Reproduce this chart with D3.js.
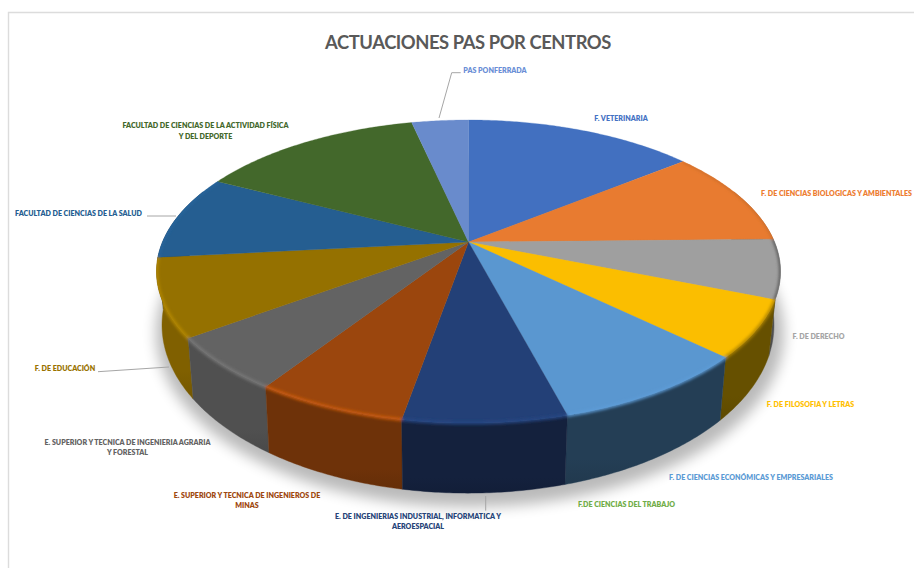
<!DOCTYPE html>
<html><head><meta charset="utf-8">
<script src="https://cdn.jsdelivr.net/npm/d3@7/dist/d3.min.js"></script>
<style>html,body{margin:0;padding:0;background:#fff}svg{display:block}text{font-family:Lato,"Open Sans",sans-serif}</style>
</head><body><div id="c"></div>
<script>
const categories=["F. VETERINARIA","F. DE CIENCIAS BIOLOGICAS Y AMBIENTALES","F. DE DERECHO","F. DE FILOSOFIA Y LETRAS","F. DE CIENCIAS ECONÓMICAS Y EMPRESARIALES","F.DE CIENCIAS DEL TRABAJO","E. DE INGENIERIAS INDUSTRIAL, INFORMATICA Y AEROESPACIAL","E. SUPERIOR Y TECNICA DE INGENIEROS DE MINAS","E. SUPERIOR Y TECNICA DE INGENIERIA AGRARIA Y FORESTAL","F. DE EDUCACIÓN","FACULTAD DE CIENCIAS DE LA SALUD","FACULTAD DE CIENCIAS DE LA ACTIVIDAD FÍSICA Y DEL DEPORTE","PAS PONFERRADA"];
const values=[14.4,10.3,6.3,6.05,8.75,0,7.05,6.55,5.7,8.3,9.1,14,3.55];
const topColors=["#4270C0","#E87B30","#9F9F9F","#FBBE00","#5A97D0","#70AD47","#234077","#9B460D","#636363","#957100","#255E91","#43682B","#698BCC"];
const wallColors=["#2B4A80","#8F4C1E","#505050","#665000","#243E55","#466D2C","#14213D","#6E3209","#505050","#806000","#183D5E","#2C441C","#445B85"];
const rimShift=[0,-0.3,-1.6,-1.0,0.1,0,0.3,0.75,0.55,0.55,0.2,0,0];
const labelColors=["#4472C4","#ED7D31","#A5A5A5","#FFC000","#5B9BD5","#70AD47","#264478","#9E480E","#636363","#997300","#255E91","#43682B","#698ED6"];
const labelLines=[["F. VETERINARIA"],["F. DE CIENCIAS BIOLOGICAS Y AMBIENTALES"],["F. DE DERECHO"],["F. DE FILOSOFIA Y LETRAS"],["F. DE CIENCIAS ECONÓMICAS Y EMPRESARIALES"],["F.DE CIENCIAS DEL TRABAJO"],["E. DE INGENIERIAS INDUSTRIAL, INFORMATICA Y","AEROESPACIAL"],["E. SUPERIOR Y TECNICA DE INGENIEROS DE","MINAS"],["E. SUPERIOR Y TECNICA DE INGENIERIA AGRARIA","Y FORESTAL"],["F. DE EDUCACIÓN"],["FACULTAD DE CIENCIAS DE LA SALUD"],["FACULTAD DE CIENCIAS DE LA ACTIVIDAD FÍSICA","Y DEL DEPORTE"],["PAS PONFERRADA"]];
const labelCentre=[[621,118],[836.5,193],[818.5,336],[810.5,404],[751,477],[626.5,504],[418,516],[247,495],[127.5,442],[65,368],[78.5,213],[205.5,125.5],[495,70.5]];
const leaders=[[[439,118],[451.7,72.7],[460.7,72.7]],[[147,216],[176,216]],[[98,371.7],[169,367]],[[485.7,496],[485.7,510.7]]];
const titleText="ACTUACIONES PAS POR CENTROS";

const W=914,H=568;
const svg=d3.select("#c").append("svg").attr("width",W).attr("height",H);
const defs=svg.append("defs");
const blur=(id,s)=>defs.append("filter").attr("id",id).attr("x","-20%").attr("y","-20%").attr("width","140%").attr("height","140%").append("feGaussianBlur").attr("stdDeviation",s);
blur("sh",7);blur("rim",1.5);

svg.append("path").attr("d","M8.5,568V12.5H914").attr("fill","none").attr("stroke","#DCDCDC").attr("stroke-width",1.4);

const apex={x:468.5,y:242},k=0.195,sY=145.8,sX=306;
const ell={cy:271.5,rx:312,ry:151.5},low={cx:468,cy:325,rx:306,ry:168};
const proj=t=>{const x=Math.sin(t),y=Math.cos(t),w=1+k*y;return [apex.x+sX*x/w,apex.y-sY*y/w];};
const projLow=t=>{const p=proj(t);const nx=(p[0]-apex.x)/ell.rx,ny=(p[1]-ell.cy)/ell.ry;return [low.cx+nx*low.rx,low.cy+ny*low.ry];};
const samples=(a,b)=>{const n=Math.max(2,Math.ceil((b-a)/0.01));return d3.range(n+1).map(i=>a+(b-a)*i/n);};
const line=d3.line();

const pie=d3.pie().sort(null).value(d=>d).startAngle(0).endAngle(2*Math.PI);
const arcs=pie(values).map((d,i)=>({...d,i}));

svg.append("ellipse").attr("cx",low.cx+2).attr("cy",low.cy+8).attr("rx",low.rx+8).attr("ry",low.ry+6)
  .attr("fill","#000").attr("opacity",0.27).attr("filter","url(#sh)");

const clipRange=d=>[Math.max(d.startAngle,Math.PI*0.38),Math.min(d.endAngle,Math.PI*1.62)];

const walls=svg.append("g");
const wallArcs=arcs.filter(d=>d.value>0&&clipRange(d)[0]<clipRange(d)[1]);
const wallPts=d=>{const [a,b]=clipRange(d),ts=samples(a,b);return ts.map(proj).concat(ts.slice().reverse().map(projLow));};
wallArcs.slice()
  .sort((a,b)=>Math.abs((b.startAngle+b.endAngle)/2-Math.PI)-Math.abs((a.startAngle+a.endAngle)/2-Math.PI))
  .forEach(d=>{
    const id="w"+d.i;
    const gr=defs.append("linearGradient").attr("id",id).attr("x1",0).attr("x2",0).attr("y1",0).attr("y2",1);
    gr.append("stop").attr("offset","0%").attr("stop-color",wallColors[d.i]);
    gr.append("stop").attr("offset","80%").attr("stop-color",wallColors[d.i]);
    gr.append("stop").attr("offset","100%").attr("stop-color",d3.color(wallColors[d.i]).darker(0.25));
    walls.append("path").attr("d",line(wallPts(d))+"Z").attr("fill",`url(#${id})`).attr("stroke",wallColors[d.i]).attr("stroke-width",0.4);
  });

const tops=svg.append("g");
arcs.filter(d=>d.value>0).forEach(d=>{
  const pts=[[apex.x,apex.y]].concat(samples(d.startAngle,d.endAngle).map(proj));
  tops.append("path").attr("d",line(pts)+"Z").attr("fill",topColors[d.i]).attr("stroke",topColors[d.i]).attr("stroke-width",0.3);
});

const clip=defs.append("clipPath").attr("id","solid");
clip.append("path").attr("d",line(samples(0,2*Math.PI).map(proj))+"Z");
wallArcs.forEach(d=>clip.append("path").attr("d",line(wallPts(d))+"Z"));
const rims=svg.append("g").attr("clip-path","url(#solid)").append("g").attr("filter","url(#rim)");
arcs.filter(d=>d.value>0&&rimShift[d.i]!==0).forEach(d=>{
  const s=rimShift[d.i];
  const c=s>0?d3.color(topColors[d.i]).brighter(s):d3.color(topColors[d.i]).darker(-s);
  rims.append("path").attr("d",line(samples(d.startAngle,d.endAngle).map(proj))).attr("fill","none")
    .attr("stroke",c).attr("stroke-width",3).attr("stroke-linecap","butt");
});

svg.append("text").attr("x",468).attr("y",49).attr("text-anchor","middle").attr("font-size",18.4).attr("font-weight",700).attr("fill","#595959").attr("letter-spacing",-0.45).text(titleText);

svg.append("g").selectAll("path").data(leaders).join("path").attr("d",d=>line(d)).attr("fill","none").attr("stroke","#A6A6A6").attr("stroke-width",1);

const lab=svg.append("g");
categories.forEach((c,i)=>{
  labelLines[i].forEach((t,j)=>{
    lab.append("text").attr("x",labelCentre[i][0]).attr("y",labelCentre[i][1]+j*10.4+2.6).attr("text-anchor","middle")
      .attr("font-size",7.1).attr("font-weight",800).attr("fill",labelColors[i]).text(t);
  });
});
</script></body></html>
